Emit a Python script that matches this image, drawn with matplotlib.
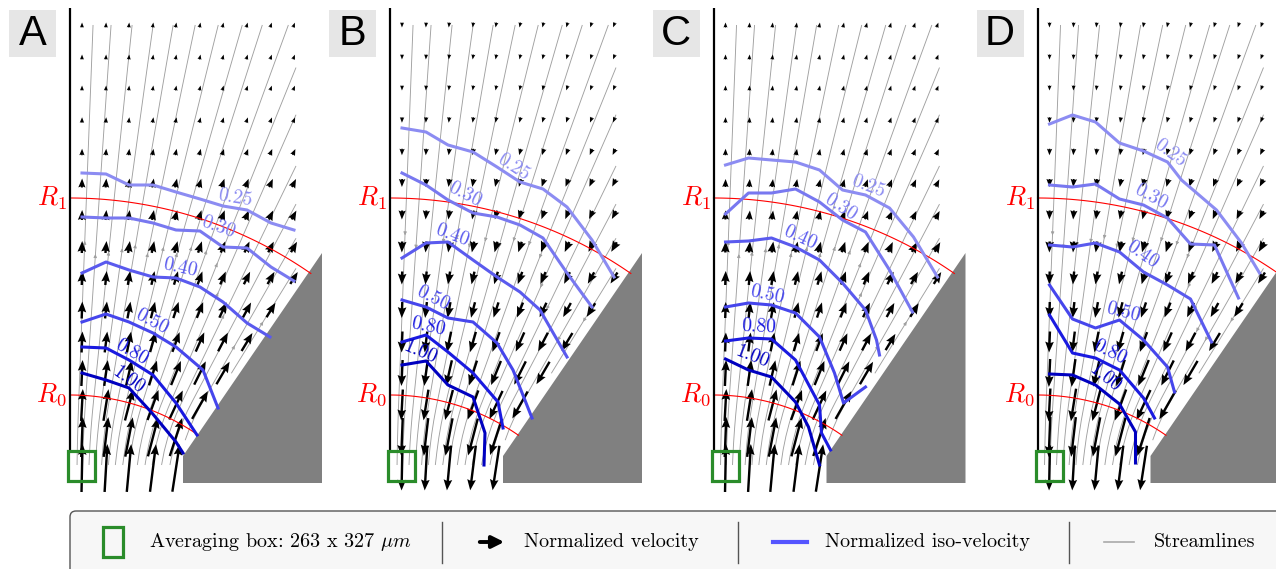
import numpy as np
import matplotlib
matplotlib.use('Agg')
import matplotlib.pyplot as plt
from matplotlib.patches import Polygon, Rectangle, FancyBboxPatch

plt.rcParams['mathtext.fontset'] = 'cm'

W, H = 1276, 569

panels = ['A', 'B', 'C', 'D']
panel_x0 = [70, 390, 713.5, 1037.5]     # where each panel's axis line sits (px)
flow_sign = [1, -1, 1, -1]              # +1 = away from apex (up), -1 = toward apex (down)

# velocity grid (mm)
grid_x = [0.12, 0.36, 0.59, 0.83, 1.06, 1.30, 1.53, 1.77, 2.01, 2.24]
grid_y = [5.95, 5.63, 5.32, 5.00, 4.68, 4.37, 4.05, 3.73, 3.42, 3.10, 2.78, 2.47, 2.15, 1.83, 1.52]

# arrow length per row, top to bottom (mm)
arrow_len_A = [0.05, 0.05, 0.05, 0.055, 0.065, 0.09, 0.10, 0.12, 0.14, 0.17, 0.21, 0.26, 0.32, 0.40, 0.48]
arrow_len_B = [0.05, 0.05, 0.05, 0.055, 0.065, 0.08, 0.09, 0.11, 0.13, 0.16, 0.21, 0.26, 0.31, 0.38, 0.45]
arrow_len_C = [0.05, 0.05, 0.05, 0.055, 0.065, 0.08, 0.09, 0.11, 0.14, 0.16, 0.19, 0.26, 0.32, 0.40, 0.48]
arrow_len_D = [0.05, 0.05, 0.05, 0.055, 0.065, 0.08, 0.09, 0.11, 0.13, 0.16, 0.21, 0.28, 0.33, 0.40, 0.45]

# how much of the radial tilt the flow keeps, vs height (flow turns vertical at the outlet)
tilt_y = [1.52, 1.83, 2.15, 6.0]
tilt_h = [0.25, 0.60, 0.95, 1.0]

# streamline seeds: along the top edge (x, mm) and along the right edge (y, mm)
seed_top_x = [0.23, 0.41, 0.62, 0.83, 1.03, 1.25, 1.48, 1.72, 1.92, 2.18]
seed_right_y = [5.50, 5.03, 4.52, 4.14, 3.80, 3.50]

R0, R1 = 2.25, 4.22
wedge_slope = 0.69      # tan of hopper half angle
wedge_base = 1.13

iso_levels = [0.25, 0.30, 0.40, 0.50, 0.80, 1.00]
iso_colors = ['#8c8cf2', '#7878f0', '#5a5aee', '#4646ec', '#1a1ae0', '#0000c0']

iso_x_A = [[0.12, 0.36, 0.59, 0.83, 1.06, 1.30, 1.53, 1.77, 2.01, 2.24],
           [0.12, 0.36, 0.59, 0.83, 1.06, 1.30, 1.53, 1.77, 2.01, 2.24],
           [0.12, 0.36, 0.59, 0.83, 1.06, 1.30, 1.53, 1.77, 2.00],
           [0.12, 0.36, 0.59, 0.83, 1.06, 1.33, 1.48],
           [0.12, 0.36, 0.59, 0.83, 1.06, 1.27],
           [0.12, 0.36, 0.59, 0.82, 1.06, 1.13]]
iso_y_A = [[4.47, 4.46, 4.35, 4.35, 4.28, 4.21, 4.14, 4.10, 3.97, 3.90],
           [4.03, 4.02, 4.02, 3.97, 3.90, 3.89, 3.73, 3.72, 3.53, 3.39],
           [3.47, 3.58, 3.50, 3.43, 3.42, 3.33, 3.18, 2.97, 2.83],
           [2.98, 3.06, 2.98, 2.87, 2.73, 2.50, 2.12],
           [2.73, 2.72, 2.60, 2.45, 2.17, 1.85],
           [2.47, 2.40, 2.32, 2.07, 1.78, 1.67]]
label_A = [(1.65, 4.22), (1.48, 3.93), (1.10, 3.52), (0.82, 2.98), (0.62, 2.68), (0.58, 2.40)]

iso_x_B = [[0.12, 0.36, 0.58, 0.83, 1.07, 1.30, 1.53, 1.77, 2.02, 2.24],
           [0.12, 0.36, 0.58, 0.83, 1.07, 1.30, 1.53, 1.77, 2.02],
           [0.12, 0.36, 0.58, 0.83, 1.07, 1.30, 1.50, 1.77],
           [0.12, 0.36, 0.58, 0.83, 1.07, 1.23, 1.42],
           [0.12, 0.36, 0.58, 0.83, 1.08, 1.13],
           [0.12, 0.36, 0.58, 0.83, 0.95, 0.94]]
iso_y_B = [[4.92, 4.88, 4.75, 4.68, 4.53, 4.38, 4.31, 4.13, 3.80, 3.43],
           [4.47, 4.35, 4.20, 4.07, 4.03, 3.95, 3.82, 3.47, 3.13],
           [3.62, 3.77, 3.78, 3.60, 3.43, 3.28, 3.10, 2.63],
           [3.20, 3.13, 3.02, 2.98, 2.77, 2.50, 2.02],
           [2.78, 2.85, 2.68, 2.47, 2.18, 1.92],
           [2.55, 2.59, 2.35, 2.23, 1.87, 1.55]]
label_B = [(1.23, 4.53), (0.75, 4.25), (0.62, 3.85), (0.43, 3.22), (0.38, 2.93), (0.30, 2.68)]

iso_x_C = [[0.12, 0.35, 0.58, 0.82, 1.06, 1.29, 1.52, 1.76, 2.00, 2.24],
           [0.12, 0.35, 0.58, 0.82, 1.06, 1.29, 1.52, 1.76, 1.99],
           [0.12, 0.35, 0.58, 0.82, 1.06, 1.29, 1.52, 1.63, 1.66],
           [0.12, 0.35, 0.58, 0.82, 1.06, 1.21, 1.30, 1.52],
           [0.12, 0.35, 0.58, 0.82, 1.06, 1.08, 1.17],
           [0.12, 0.35, 0.58, 0.82, 0.95, 1.06]]
iso_y_C = [[4.55, 4.62, 4.60, 4.58, 4.50, 4.30, 4.25, 4.12, 3.83, 3.43],
           [4.06, 4.27, 4.27, 4.31, 4.18, 4.00, 3.88, 3.50, 3.08],
           [3.78, 3.79, 3.82, 3.73, 3.60, 3.37, 3.10, 2.80, 2.65],
           [3.13, 3.17, 3.15, 3.07, 2.83, 2.47, 2.17, 2.33],
           [2.79, 2.82, 2.81, 2.60, 2.15, 1.87, 1.70],
           [2.61, 2.50, 2.43, 2.18, 1.93, 1.55]]
label_C = [(1.55, 4.33), (1.27, 4.13), (0.87, 3.82), (0.54, 3.25), (0.45, 2.93), (0.39, 2.63)]

iso_x_D = [[0.12, 0.35, 0.58, 0.82, 1.06, 1.30, 1.44, 1.79, 2.04, 2.22],
           [0.12, 0.35, 0.58, 0.82, 1.06, 1.30, 1.53, 1.77, 2.01],
           [0.12, 0.35, 0.58, 0.82, 1.06, 1.30, 1.53, 1.74],
           [0.12, 0.35, 0.58, 0.82, 1.06, 1.30, 1.37],
           [0.12, 0.35, 0.58, 0.82, 1.06, 1.17],
           [0.12, 0.35, 0.58, 0.82, 0.98, 0.98]]
iso_y_D = [[4.96, 5.05, 4.98, 4.77, 4.69, 4.58, 4.40, 4.10, 3.77, 3.47],
           [4.35, 4.33, 4.36, 4.21, 4.15, 4.02, 3.76, 3.75, 3.22],
           [3.75, 3.73, 3.77, 3.68, 3.48, 3.35, 3.21, 2.78],
           [3.35, 3.01, 2.92, 3.00, 2.80, 2.53, 2.28],
           [3.05, 2.67, 2.62, 2.50, 2.22, 2.02],
           [2.46, 2.45, 2.35, 2.16, 1.88, 1.57]]
label_D = [(1.33, 4.67), (1.13, 4.23), (1.05, 3.65), (0.86, 3.08), (0.72, 2.68), (0.67, 2.42)]

arrow_lens = [arrow_len_A, arrow_len_B, arrow_len_C, arrow_len_D]
iso_xs = [iso_x_A, iso_x_B, iso_x_C, iso_x_D]
iso_ys = [iso_y_A, iso_y_B, iso_y_C, iso_y_D]
labels_xy = [label_A, label_B, label_C, label_D]

legend_labels = ['Averaging box: 263 x 327 $\\mu m$', 'Normalized velocity',
                 'Normalized iso-velocity', 'Streamlines']


def wedge_x(y):
    return np.maximum(wedge_base, np.asarray(y) * wedge_slope)


def flow_angle(x, y):
    return np.arctan2(x, y) * np.interp(y, tilt_y, tilt_h)


def label_angle(xs, ys, lx):
    xs = np.asarray(xs)
    ys = np.asarray(ys)
    sel = np.abs(xs - lx) < 0.3
    if sel.sum() < 2:
        return 0.0
    m = np.polyfit(xs[sel], ys[sel], 1)[0]
    return np.degrees(np.arctan(m))


fig = plt.figure(figsize=(W / 100, H / 100), dpi=100)

# direction field used for the streamlines
sx = np.linspace(0, 2.26, 80)
sy = np.linspace(1.55, 5.95, 160)
SX, SY = np.meshgrid(sx, sy)
SA = flow_angle(SX, SY)
solid = SX > wedge_x(SY) - 0.06
SU = np.ma.masked_where(solid, np.sin(SA))
SV = np.ma.masked_where(solid, np.cos(SA))
seeds = np.array([(x, 5.94) for x in seed_top_x] + [(2.25, y) for y in seed_right_y])

for k, name in enumerate(panels):
    x0 = panel_x0[k]
    ax = fig.add_axes([(x0 - 5) / W, (H - 498) / H, 260 / W, 490 / H])

    # streamlines
    ax.streamplot(sx, sy, SU * flow_sign[k], SV * flow_sign[k], start_points=seeds,
                  color='#a0a0a0', linewidth=0.65, arrowsize=0.45, broken_streamlines=False,
                  integration_direction='both', zorder=2)

    # hopper wall
    ax.add_patch(Polygon([(wedge_base, 1.37), (wedge_base, 1.64), (2.52, 3.67), (2.52, 1.37)],
                         closed=True, fc='#808080', ec='none', zorder=3))

    # velocity arrows
    X, Y = np.meshgrid(grid_x, grid_y)
    L = np.array(arrow_lens[k])[:, None] * np.ones_like(X)
    A = flow_angle(X, Y)
    U = flow_sign[k] * L * np.sin(A)
    V = flow_sign[k] * L * np.cos(A)
    keep = X < wedge_x(Y) - 0.05
    ax.quiver(X[keep], Y[keep], U[keep], V[keep], angles='xy', scale_units='xy', scale=1,
              units='xy', width=0.024, headwidth=3.6, headlength=4.5, headaxislength=4,
              pivot='middle', color='k', zorder=4)

    # R0 / R1 arcs
    phi = np.radians(np.linspace(0, 34.8, 100))
    for r, lab in [(R0, '$R_0$'), (R1, '$R_1$')]:
        ax.plot(r * np.sin(phi), r * np.cos(phi), color='red', lw=0.8, zorder=5)
        ax.text(-0.03, r, lab, color='red', fontsize=19, ha='right', va='center')

    # symmetry axis and averaging box
    ax.plot([0, 0], [1.69, 6.11], color='k', lw=1.6, zorder=5)
    ax.add_patch(Rectangle((-0.02, 1.39), 0.27, 0.30, fill=False, ec='#2a8c2a', lw=2.3, zorder=6))

    # iso-velocity lines
    for j, lev in enumerate(iso_levels):
        xs, ysl = iso_xs[k][j], iso_ys[k][j]
        ax.plot(xs, ysl, color=iso_colors[j], lw=2.2, zorder=7)
        lx, ly = labels_xy[k][j]
        ax.text(lx, ly, f'{lev:.2f}', color=iso_colors[j], fontsize=14, family='cmr10',
                rotation=label_angle(xs, ysl, lx), rotation_mode='anchor',
                ha='center', va='center', zorder=8)

    ax.set_xlim(-0.05, 2.55)
    ax.set_ylim(1.22, 6.12)
    ax.axis('off')

# overlay in pixel coordinates: panel letters and legend
lax = fig.add_axes([0, 0, 1, 1])
lax.set_xlim(0, W)
lax.set_ylim(H, 0)
lax.axis('off')
lax.patch.set_alpha(0)

for k, name in enumerate(panels):
    x0 = panel_x0[k]
    lax.add_patch(Rectangle((x0 - 61, 10), 47, 47, fc='#e6e6e6', ec='none'))
    lax.text(x0 - 37.5, 34, name, fontsize=30, family='Liberation Sans', ha='center', va='center')

lax.add_patch(FancyBboxPatch((70, 511), 1230, 80, boxstyle='round,pad=0,rounding_size=6',
                             fc='#f7f7f7', ec='#555555', lw=1.0))
yl = 542
lax.add_patch(Rectangle((103, 527), 20, 30, fill=False, ec='#2a8c2a', lw=2.3))
lax.annotate('', xy=(507, yl), xytext=(477, yl),
             arrowprops=dict(arrowstyle='-|>', color='k', lw=2.8, mutation_scale=18))
lax.plot([773, 807], [yl, yl], color='#5555ff', lw=3)
lax.plot([1104, 1134], [yl, yl], color='#aaaaaa', lw=1.2)
for sxp in [442, 738, 1069]:
    lax.plot([sxp, sxp], [522, 563], color='#555555', lw=1.0)
for tx, txt in zip([149, 524, 825, 1154], legend_labels):
    lax.text(tx, yl, txt, fontsize=14.5, family='cmr10', ha='left', va='center')

fig.savefig('out.png', dpi=100)
